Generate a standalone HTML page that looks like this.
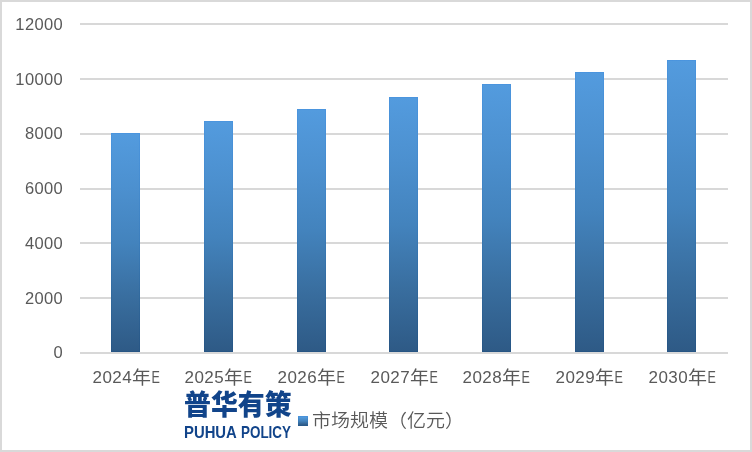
<!DOCTYPE html>
<html lang="zh"><head><meta charset="utf-8"><title>市场规模</title>
<style>
html,body{margin:0;padding:0;background:#fff;}
body{width:752px;height:452px;overflow:hidden;position:relative;font-family:"Liberation Sans","Noto Sans CJK SC",sans-serif;color:#595959;}
#frame{position:absolute;left:0;top:0;width:752px;height:452px;box-sizing:border-box;border:2px solid #d9d9d9;}
.grid{position:absolute;left:80px;width:648px;height:2px;background:#d8d8d8;}
.bar{position:absolute;width:29px;box-sizing:border-box;border:1px solid transparent;background:linear-gradient(to bottom,#539bde 0%,#4c90cf 25%,#4383bd 50%,#396e9f 75%,#2e5a86 100%) padding-box,linear-gradient(to bottom,#4b95de 0%,#458bce 25%,#3c7ebc 50%,#31699d 75%,#275584 100%) border-box;}
.yl{position:absolute;left:0;width:63px;text-align:right;font-size:16.5px;line-height:20px;height:20px;white-space:nowrap;letter-spacing:0.35px;}
.xl{position:absolute;width:100px;text-align:left;font-size:17px;line-height:22px;height:22px;top:364px;white-space:nowrap;}
.xl .d{letter-spacing:0.45px;}
.xl .n{font-family:"Noto Sans CJK SC",sans-serif;font-size:19px;margin-left:-0.1px;margin-right:0px;display:inline-block;transform:scale(1.0,0.955);transform-origin:50% 50%;position:relative;top:1.4px;}
.xl .e{display:inline-block;transform:translateX(0.5px) scaleX(0.74);transform-origin:0 50%;margin-left:0px;}
#logo1{position:absolute;left:184px;top:386px;font-family:"Noto Sans CJK SC",sans-serif;font-weight:900;font-size:26.8px;line-height:36px;color:#11448a;white-space:nowrap;letter-spacing:0;transform:scale(1.005,1.04);transform-origin:0 88%;}
#logo2{position:absolute;left:0;top:423.3px;width:400px;height:20px;font-weight:bold;font-size:16.7px;line-height:20px;color:#11448a;white-space:nowrap;}
#logo2 span{position:absolute;top:0;display:block;transform-origin:0 0;}
#lg2a{left:184.2px;transform:scaleX(0.89);}
#lg2b{left:241px;transform:scaleX(0.805);}
#lm{position:absolute;left:298px;top:416px;width:10px;height:10px;box-sizing:border-box;border:1px solid transparent;background:linear-gradient(to bottom,#539bde 0%,#4383bd 50%,#2e5a86 100%) padding-box,linear-gradient(to bottom,#4b95de 0%,#3c7ebc 50%,#275584 100%) border-box;}
#lt{position:absolute;left:312px;top:406px;font-family:"Noto Sans CJK SC",sans-serif;font-size:19px;line-height:26px;white-space:nowrap;transform:scale(1,0.95);transform-origin:0 52%;font-weight:350;}
</style></head><body>
<div id="frame"></div>

<div class="grid" style="top:23px"></div>
<div class="yl" id="y0" style="top:14.2px">12000</div>
<div class="grid" style="top:78px"></div>
<div class="yl" id="y1" style="top:69.2px">10000</div>
<div class="grid" style="top:133px"></div>
<div class="yl" id="y2" style="top:123.2px">8000</div>
<div class="grid" style="top:188px"></div>
<div class="yl" id="y3" style="top:178.2px">6000</div>
<div class="grid" style="top:242px"></div>
<div class="yl" id="y4" style="top:233.2px">4000</div>
<div class="grid" style="top:297px"></div>
<div class="yl" id="y5" style="top:288.2px">2000</div>
<div class="grid" style="top:352px"></div>
<div class="yl" id="y6" style="top:342.2px">0</div>
<div class="bar" style="left:111px;top:133px;height:219px"></div>
<div class="xl" id="x0" style="left:92.5px"><span class="d">2024</span><span class="n">年</span><span class="e">E</span></div>
<div class="bar" style="left:204px;top:121px;height:231px"></div>
<div class="xl" id="x1" style="left:184.5px"><span class="d">2025</span><span class="n">年</span><span class="e">E</span></div>
<div class="bar" style="left:297px;top:109px;height:243px"></div>
<div class="xl" id="x2" style="left:277.5px"><span class="d">2026</span><span class="n">年</span><span class="e">E</span></div>
<div class="bar" style="left:389px;top:97px;height:255px"></div>
<div class="xl" id="x3" style="left:370.5px"><span class="d">2027</span><span class="n">年</span><span class="e">E</span></div>
<div class="bar" style="left:482px;top:84px;height:268px"></div>
<div class="xl" id="x4" style="left:462.5px"><span class="d">2028</span><span class="n">年</span><span class="e">E</span></div>
<div class="bar" style="left:575px;top:72px;height:280px"></div>
<div class="xl" id="x5" style="left:555.5px"><span class="d">2029</span><span class="n">年</span><span class="e">E</span></div>
<div class="bar" style="left:667px;top:60px;height:292px"></div>
<div class="xl" id="x6" style="left:648.5px"><span class="d">2030</span><span class="n">年</span><span class="e">E</span></div>
<div id="logo1">普华有策</div>
<div id="logo2"><span id="lg2a">PUHUA </span><span id="lg2b">POLICY</span></div>
<div id="lm"></div>
<div id="lt">市场规模（亿元）</div>
</body></html>
